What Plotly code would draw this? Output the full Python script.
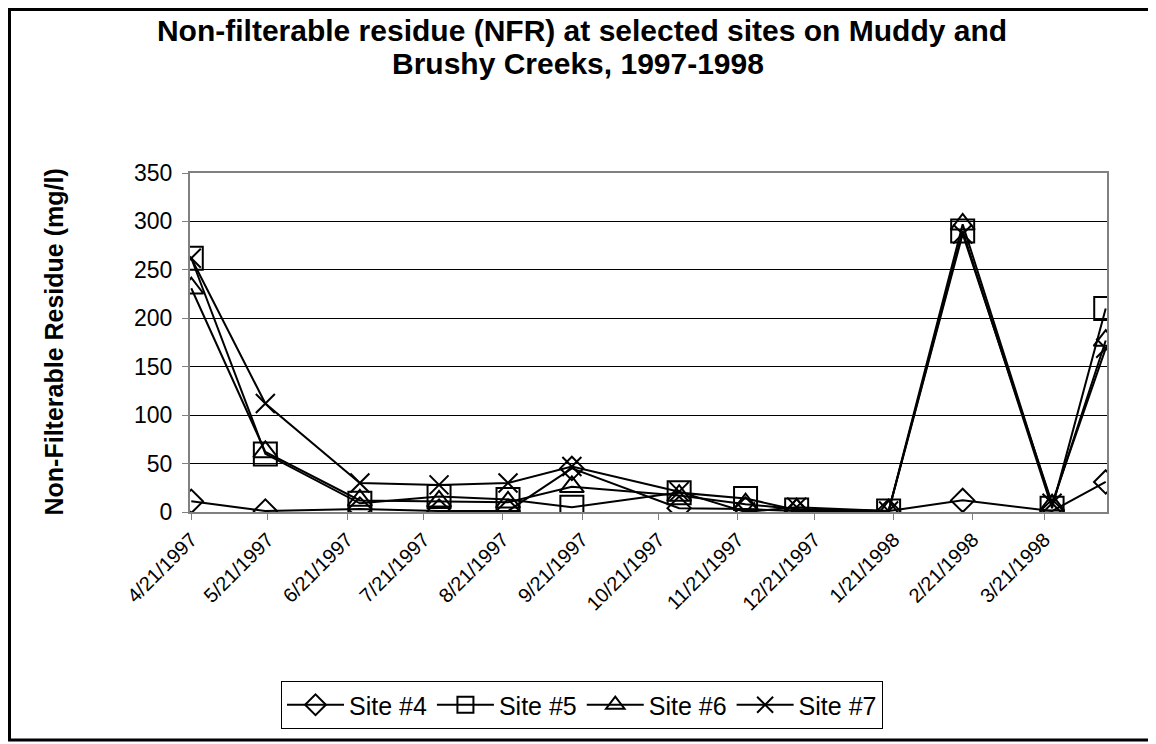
import plotly.graph_objects as go

# ---- data ----
sample_dates = ["1997-04-21", "1997-05-20", "1997-06-26", "1997-07-27", "1997-08-23",
                "1997-09-17", "1997-10-29", "1997-11-24", "1997-12-14", "1998-01-19",
                "1998-02-17", "1998-03-24", "1998-04-14"]
site4 = [11, 1, 3, 1, 1, 45, 4, 3, 1, 1, 12, 1, 31]
site5 = [262, 60, 9, 16, 13, 5, 20, 14, 2, 1, 290, 4, 210]
site6 = [231, 62, 12, 11, 10, 26, 17, 8, 3, 1, 297, 7, 177]
site7 = [262, 112, 30, 28, 30, 47, 21, 0, 5, 1, 287, 9, 169]

tick_dates = ["1997-04-21", "1997-05-21", "1997-06-21", "1997-07-21", "1997-08-21",
              "1997-09-21", "1997-10-21", "1997-11-21", "1997-12-21", "1998-01-21",
              "1998-02-21", "1998-03-21"]
tick_labels = ["4/21/1997", "5/21/1997", "6/21/1997", "7/21/1997", "8/21/1997",
               "9/21/1997", "10/21/1997", "11/21/1997", "12/21/1997", "1/21/1998",
               "2/21/1998", "3/21/1998"]

series_names = ["Site #4", "Site #5", "Site #6", "Site #7"]
series_values = [site4, site5, site6, site7]
symbols = ["diamond-open", "square-open", "triangle-up-open", "x-thin-open"]
sizes = [18, 23, 21, 19]

title_line1 = "Non-filterable residue (NFR) at selected sites on Muddy and"
title_line2 = "Brushy Creeks, 1997-1998"
y_title = "Non-Filterable Residue (mg/l)"

FONT = "Liberation Sans, Arial, sans-serif"

fig = go.Figure()
for name, vals, sym, sz in zip(series_names, series_values, symbols, sizes):
    fig.add_trace(go.Scatter(
        x=sample_dates, y=vals, name=name, mode="lines+markers",
        line=dict(color="black", width=2),
        marker=dict(symbol=sym, size=sz, color="black",
                    line=dict(color="black", width=2)),
    ))

# page is drawn with an 8px body margin, so work in page px minus 8
OFF = 8
W, H = 1156 - OFF, 744 - OFF
L, R, T, B = 190 - OFF, 1107 - OFF, 173 - OFF, 512 - OFF
PW, PH = R - L, B - T


def px(xp):
    return (xp - OFF - L) / PW


def py(yp):
    return (B - (yp - OFF)) / PH


fig.update_layout(
    width=W, height=H,
    margin=dict(l=L, r=W - R, t=T, b=H - B, autoexpand=False),
    paper_bgcolor="white", plot_bgcolor="white",
    font=dict(family=FONT, color="black"),
    title=dict(
        text="<b>" + title_line1 + "</b>",
        x=0.5, xref="container", xanchor="center",
        y=1 - (30 - OFF) / H, yref="container", yanchor="middle",
        font=dict(family=FONT, size=30, color="black"),
    ),
    showlegend=True,
    legend=dict(
        orientation="h", x=px(281), xanchor="left",
        y=py(681), yanchor="top",
        bordercolor="black", borderwidth=1,
        font=dict(family=FONT, size=25, color="black"),
        itemwidth=57, tracegroupgap=0,
        bgcolor="white",
    ),
    xaxis=dict(
        type="date",
        range=["1997-04-20 12:00", "1998-04-14 12:00"],
        tickmode="array", tickvals=tick_dates, ticktext=tick_labels,
        tickangle=-45, ticks="outside", ticklen=6, tickcolor="#808080",
        tickfont=dict(family=FONT, size=20, color="black"),
        showgrid=False, zeroline=False,
        showline=True, linecolor="#808080", linewidth=2, mirror=True,
    ),
    yaxis=dict(
        range=[0, 350], tickmode="linear", tick0=0, dtick=50,
        ticks="outside", ticklen=6, tickcolor="#808080",
        tickfont=dict(family=FONT, size=23, color="black"),
        ticklabelstandoff=5,
        showgrid=True, gridcolor="black", gridwidth=1,
        zeroline=False,
        showline=True, linecolor="#808080", linewidth=2, mirror=True,
    ),
    annotations=[
        dict(
            text="<b>" + title_line2 + "</b>",
            xref="paper", yref="paper",
            x=px(578), y=py(63), xanchor="center", yanchor="middle",
            showarrow=False,
            font=dict(family=FONT, size=30, color="black"),
        ),
        dict(
            text="<b>" + y_title + "</b>",
            xref="paper", yref="paper",
            x=px(53), y=0.5, xanchor="center", yanchor="middle",
            textangle=-90, showarrow=False,
            font=dict(family=FONT, size=25, color="black"),
        ),
    ],
    shapes=[dict(
        type="rect", xref="paper", yref="paper",
        x0=(1.5 - L) / PW, x1=(1150 - OFF - L) / PW,
        y0=(B - (740 - OFF)) / PH, y1=(B - 1.5) / PH,
        line=dict(color="black", width=3), fillcolor="rgba(0,0,0,0)",
        layer="below",
    )],
)

fig.write_html("out.html")
